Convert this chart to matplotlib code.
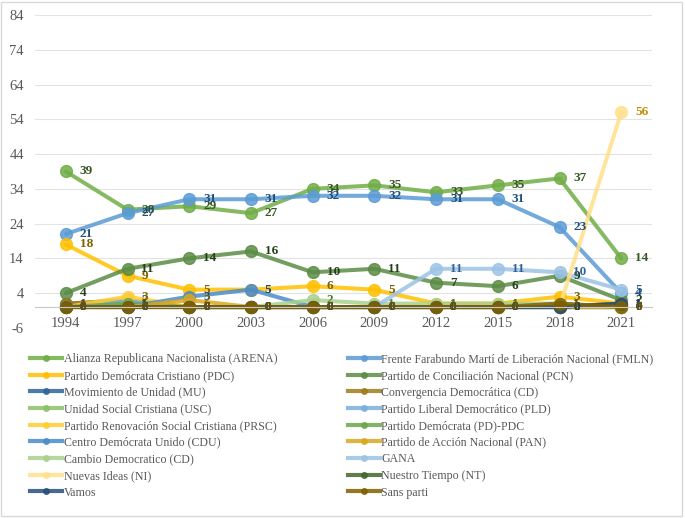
import numpy as np
import matplotlib.pyplot as plt
from matplotlib.lines import Line2D
from matplotlib.patches import Rectangle

plt.rcParams['font.family'] = ['Liberation Serif', 'DejaVu Serif']
plt.rcParams['axes.unicode_minus'] = False

years = ['1994', '1997', '2000', '2003', '2006', '2009', '2012', '2015', '2018', '2021']

parties = [
    'Alianza Republicana Nacionalista (ARENA)',
    'Frente Farabundo Martí de Liberación Nacional (FMLN)',
    'Partido Demócrata Cristiano (PDC)',
    'Partido de Conciliación Nacional (PCN)',
    'Movimiento de Unidad (MU)',
    'Convergencia Democrática (CD)',
    'Unidad Social Cristiana (USC)',
    'Partido Liberal Democrático (PLD)',
    'Partido Renovación Social Cristiana (PRSC)',
    'Partido Demócrata (PD)-PDC',
    'Centro Demócrata Unido (CDU)',
    'Partido de Acción Nacional (PAN)',
    'Cambio Democratico (CD)',
    'GANA',
    'Nuevas Ideas (NI)',
    'Nuestro Tiempo (NT)',
    'Vamos',
    'Sans parti',
]

arena = [39, 28, 29, 27, 34, 35, 33, 35, 37, 14]
fmln = [21, 27, 31, 31, 32, 32, 31, 31, 23, 4]
pdc = [18, 9, 5, 5, 6, 5, 1, 1, 3, 1]
pcn = [4, 11, 14, 16, 10, 11, 7, 6, 9, 2]
mu = [1, 1, 0, 0, 0, 0, 0, 0, 0, 0]
conv = [1, 2, 0, 0, 0, 0, 0, 0, 0, 0]
usc = [0, 1, 0, 0, 0, 0, 0, 0, 0, 0]
pld = [0, 2, 0, 0, 0, 0, 0, 0, 0, 0]
prsc = [0, 3, 0, 0, 0, 0, 0, 0, 0, 0]
pd_pdc = [0, 1, 0, 0, 0, 0, 0, 0, 0, 0]
cdu = [0, 0, 3, 5, 0, 0, 0, 0, 0, 0]
pan = [0, 0, 2, 0, 0, 0, 0, 0, 0, 0]
cambio = [0, 0, 0, 0, 2, 1, 1, 1, 1, 0]
gana = [0, 0, 0, 0, 0, 0, 11, 11, 10, 5]
ni = [0, 0, 0, 0, 0, 0, 0, 0, 0, 56]
nt = [0, 0, 0, 0, 0, 0, 0, 0, 0, 1]
vamos = [0, 0, 0, 0, 0, 0, 0, 0, 0, 1]
sans = [0, 0, 0, 0, 0, 0, 0, 0, 1, 0]

series = [arena, fmln, pdc, pcn, mu, conv, usc, pld, prsc, pd_pdc,
          cdu, pan, cambio, gana, ni, nt, vamos, sans]

line_colors = ['#70AD47', '#5B9BD5', '#FFC000', '#5B8C45', '#2F6599', '#A07C1C',
               '#8CC168', '#7CAFDD', '#FFCD33', '#6AA84F', '#4A8CCB', '#D9A81E',
               '#A9D18E', '#9DC3E6', '#FFE08A', '#43682B', '#2A4F7A', '#806000']
label_colors = ['#375623', '#1F4E79', '#7F6000', '#243F17', '#1F3F66', '#6B5210',
                '#4E7A32', '#2E6296', '#8C6A00', '#375623', '#1F4E79', '#7F6000',
                '#4E7A32', '#2E6296', '#BF8F00', '#243F17', '#1F3F66', '#6B5210']

fig = plt.figure(figsize=(6.85, 5.18), dpi=100)
ax = fig.add_axes([0.051, 0.367, 0.901, 0.604])

x = np.arange(len(years))
for name, vals, lc, tc in zip(parties, series, line_colors, label_colors):
    ax.plot(x, vals, color=lc, lw=2.9, marker='o', ms=8.5, alpha=0.85,
            solid_capstyle='round')
    for xi, v in zip(x, vals):
        ax.annotate(str(v), (xi, v), xytext=(10, 0), textcoords='offset points',
                    ha='left', va='center', fontsize=9.5, fontweight='bold', color=tc)

ax.set_xlim(-0.5, len(years) - 0.5)
ax.set_ylim(-6, 84)
ax.set_yticks(np.arange(-6, 85, 10))
ax.set_xticks(x)
ax.set_xticklabels(years)
ax.grid(axis='y', color='#E3E3E3', lw=0.8)
ax.set_axisbelow(True)
for s in ['top', 'right', 'left']:
    ax.spines[s].set_visible(False)
ax.spines['bottom'].set_position(('data', 0))
ax.spines['bottom'].set_color('#C8C8C8')
ax.tick_params(length=0, labelsize=10.5, colors='#595959')
ax.tick_params(axis='x', pad=7)
ax.tick_params(axis='y', pad=8)

# legend: two columns read row by row, drawn as two separate legends
proxies = [Line2D([], [], color=c, lw=3, marker='o', ms=4, alpha=0.85) for c in line_colors]
legend_kw = dict(loc='upper left', frameon=False, fontsize=8.6, labelcolor='#595959',
                 handlelength=2.7, handletextpad=0.1, labelspacing=0.39,
                 borderaxespad=0, borderpad=0)
left = fig.legend(proxies[0::2], parties[0::2], bbox_to_anchor=(0.044, 0.318), **legend_kw)
right = fig.legend(proxies[1::2], parties[1::2], bbox_to_anchor=(0.508, 0.318), **legend_kw)

fig.patches.append(Rectangle((0.002, 0.003), 0.994, 0.993, transform=fig.transFigure,
                             fill=False, edgecolor='#D9D9D9', lw=1))

fig.savefig('out.png', dpi=100)
